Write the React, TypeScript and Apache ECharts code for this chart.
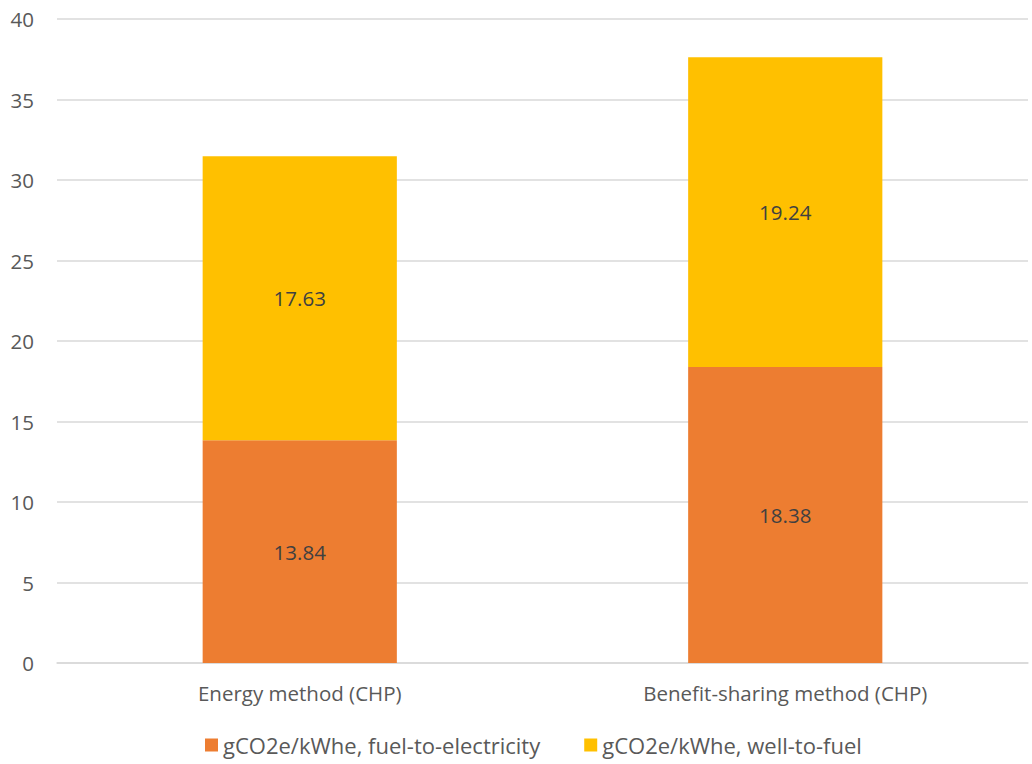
import React, { useEffect, useRef } from "react";
import * as echarts from "echarts";

const categories = ["Energy method (CHP)", "Benefit-sharing method (CHP)"];
const fuelToElectricity = [13.84, 18.38];
const wellToFuel = [17.63, 19.24];
const seriesNames = ["gCO2e/kWhe, fuel-to-electricity", "gCO2e/kWhe, well-to-fuel"];

const FONT = "'Open Sans', sans-serif";
const TEXT = "#595959";
const FS = 20.5;

export default function App() {
  const ref = useRef<HTMLDivElement>(null);
  useEffect(() => {
    const chart = echarts.init(ref.current!, undefined, { renderer: "svg" });
    chart.setOption({
      animation: false,
      textStyle: { fontFamily: FONT },
      grid: { left: 57, right: 4, top: 19, bottom: 101, containLabel: false },
      legend: {
        bottom: 3,
        left: 200,
        itemWidth: 13,
        itemHeight: 13,
        itemGap: 44,
        icon: "rect",
        textStyle: { fontFamily: FONT, fontSize: 22, color: TEXT },
        data: seriesNames,
      },
      xAxis: {
        type: "category",
        data: categories,
        axisLine: { lineStyle: { color: "#d9d9d9", width: 1.5 } },
        axisTick: { show: false },
        axisLabel: { fontFamily: FONT, fontSize: FS, color: TEXT, margin: 19 },
      },
      yAxis: {
        type: "value",
        min: 0,
        max: 40,
        interval: 5,
        axisLine: { show: false },
        axisTick: { show: false },
        splitLine: { lineStyle: { color: "#d9d9d9", width: 1.5 } },
        axisLabel: { fontFamily: FONT, fontSize: FS, color: TEXT, margin: 23 },
      },
      series: [
        {
          name: seriesNames[0],
          type: "bar",
          stack: "total",
          barWidth: "40%",
          data: fuelToElectricity,
          itemStyle: { color: "#ED7D31" },
          label: { show: true, position: "inside", fontFamily: FONT, fontSize: FS, color: "#404040" },
        },
        {
          name: seriesNames[1],
          type: "bar",
          stack: "total",
          barWidth: "40%",
          data: wellToFuel,
          itemStyle: { color: "#FFC000" },
          label: { show: true, position: "inside", fontFamily: FONT, fontSize: FS, color: "#404040" },
        },
      ],
    });
    return () => chart.dispose();
  }, []);
  return (
    <div
      ref={ref}
      style={{ position: "fixed", left: 0, top: 0, width: 1032, height: 764, background: "#fff" }}
    />
  );
}
